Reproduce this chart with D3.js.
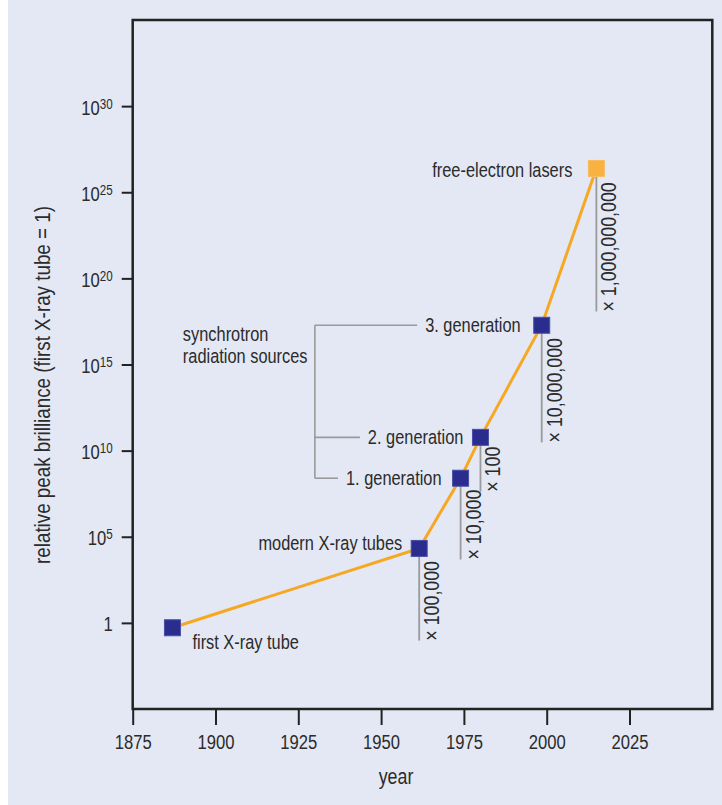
<!DOCTYPE html>
<html>
<head>
<meta charset="utf-8">
<script src="https://cdn.jsdelivr.net/npm/d3@7"></script>
<style>
  html, body { margin: 0; padding: 0; background: #ffffff; }
  svg { display: block; }
  text { font-family: "Liberation Sans", Arial, sans-serif; fill: #2b2b2b; }
</style>
</head>
<body>
<svg id="chart" width="722" height="805"></svg>
<script>
// Milestones in X-ray source brilliance
const years      = [1887, 1961.5, 1974, 1980, 1998.5, 2015];
const brilliance = [0.52, 2.1e4, 2.5e8, 5.9e10, 1.9e17, 2.4e26];
const sourceNames = ["first X-ray tube", "modern X-ray tubes", "1. generation",
                     "2. generation", "3. generation", "free-electron lasers"];
const sourceKinds = ["tube", "tube", "synchrotron", "synchrotron", "synchrotron", "fel"];

// Gain factor from one source to the next, and the level each gain bar starts from
const gainLabels = ["× 100,000", "× 10,000", "× 100", "× 10,000,000", "× 1,000,000,000"];
const gainFloor  = [0.093, 4.8e3, 4.1e7, 3.0e10, 1.2e18];

const xTicks = [1875, 1900, 1925, 1950, 1975, 2000, 2025];
const yTickExponents = [0, 5, 10, 15, 20, 25, 30];
const groupTitle = ["synchrotron", "radiation sources"];
const bracketYear = 1930;

// Label placement next to each marker (px)
const labelDx = [20, -17, -19, -17, -21, -24];
const labelDy = [21, -5, 0, 0, 0, 2];

const svg = d3.select("#chart");
const W = 722, H = 805;
const frame = { left: 132.7, right: 712.3, top: 20, bottom: 709 };
const SX = 0.84;            // horizontal squeeze giving a condensed face
const FS_NOTE = 19.5, FS_GAIN = 21.2, FS_TICK = 19.8, FS_TITLE = 21.2, FS_YTITLE = 22.4;

// Places a text element at (px,py) with optional rotation, condensed horizontally
function placeText(parent, px, py, str, size, opts = {}) {
  return parent.append("text")
    .attr("transform", `translate(${px},${py})${opts.rotate ? ` rotate(${opts.rotate})` : ""} scale(${SX},1)`)
    .attr("text-anchor", opts.anchor || "start")
    .attr("dy", opts.dy || 0)
    .attr("font-size", size)
    .text(str);
}

svg.append("rect").attr("x", 8).attr("y", 0).attr("width", W - 8).attr("height", H).attr("fill", "#e3e8f4");

const x = d3.scaleLinear().domain([1875, 2050]).range([frame.left, frame.right]);
const y = d3.scaleLog().domain([1e-5, 1e35]).range([frame.bottom, frame.top]);

// Axes
const xAxis = svg.append("g")
  .attr("transform", `translate(0,${frame.bottom})`)
  .call(d3.axisBottom(x).tickValues(xTicks).tickFormat(d3.format("d")).tickSize(16).tickPadding(9.5));
const yAxis = svg.append("g")
  .attr("transform", `translate(${frame.left},0)`)
  .call(d3.axisLeft(y).tickValues(yTickExponents.map(e => Math.pow(10, e))).tickSize(11).tickPadding(8.5));

[xAxis, yAxis].forEach(g => {
  g.select(".domain").remove();
  g.selectAll(".tick line").attr("stroke", "#222").attr("stroke-width", 2);
  g.selectAll(".tick text").attr("font-size", FS_TICK).attr("fill", "#2b2b2b");
});
xAxis.selectAll(".tick text").attr("transform", `scale(${SX},1)`);
yAxis.selectAll(".tick text").each(function (d) {
  const e = Math.round(Math.log10(d));
  const t = d3.select(this).text(null)
    .attr("x", 0).attr("dy", "0.4em")
    .attr("transform", `translate(-20,0) scale(${SX},1)`);
  if (e === 0) { t.text("1"); return; }
  t.append("tspan").text("10");
  t.append("tspan").attr("dy", "-0.42em").attr("font-size", "0.7em").text(e);
});

// Plot frame
svg.append("rect")
  .attr("x", frame.left).attr("y", frame.top)
  .attr("width", frame.right - frame.left).attr("height", frame.bottom - frame.top)
  .attr("fill", "none").attr("stroke", "#222").attr("stroke-width", 2.5);

// Axis titles
placeText(svg, 396, 784, "year", FS_TITLE, { anchor: "middle" });
placeText(svg, 42, 385, "relative peak brilliance (first X-ray tube = 1)", FS_YTITLE,
  { anchor: "middle", rotate: -90, dy: "0.35em" });

const pts = years.map((yr, i) => ({ yr, v: brilliance[i], name: sourceNames[i], kind: sourceKinds[i], i }));

// Gain bars and their factors
const gains = gainLabels.map((lab, k) => ({ lab, floor: gainFloor[k], p: pts[k + 1] }));
svg.append("g").selectAll("line").data(gains).join("line")
  .attr("x1", d => x(d.p.yr)).attr("x2", d => x(d.p.yr))
  .attr("y1", d => y(d.p.v)).attr("y2", d => y(d.floor))
  .attr("stroke", "#9a9a9a").attr("stroke-width", 1.8);
const gainG = svg.append("g");
gains.forEach(d => placeText(gainG, x(d.p.yr) + 12.5, y(d.floor), d.lab, FS_GAIN,
  { rotate: -90, dy: "0.35em" }));

// Bracket grouping the synchrotron generations
const syn = pts.filter(p => p.kind === "synchrotron");
const bx = x(bracketYear);
const bracket = svg.append("g").attr("stroke", "#9a9a9a").attr("stroke-width", 1.6).attr("fill", "none");
bracket.append("line").attr("x1", bx).attr("x2", bx)
  .attr("y1", d3.min(syn, p => y(p.v))).attr("y2", d3.max(syn, p => y(p.v)));

// Connecting line
svg.append("path").datum(pts)
  .attr("d", d3.line().x(d => x(d.yr)).y(d => y(d.v)))
  .attr("fill", "none").attr("stroke", "#f7a823").attr("stroke-width", 3);

// Source labels
const labelG = svg.append("g");
pts.forEach(d => {
  const t = placeText(labelG, x(d.yr) + labelDx[d.i], y(d.v) + labelDy[d.i], d.name, FS_NOTE,
    { anchor: d.i === 0 ? "start" : "end", dy: d.i === 0 ? 0 : "0.35em" });
  if (d.kind === "synchrotron") {
    const left = x(d.yr) + labelDx[d.i] - t.node().getComputedTextLength() * SX;
    bracket.append("line").attr("x1", bx).attr("x2", left - 8)
      .attr("y1", y(d.v)).attr("y2", y(d.v));
  }
});

const title = svg.append("text")
  .attr("transform", `translate(${bx - 132},${y(syn[2].v) + 16}) scale(${SX},1)`)
  .attr("font-size", FS_NOTE);
title.selectAll("tspan").data(groupTitle).join("tspan")
  .attr("x", 0).attr("dy", (d, i) => i === 0 ? 0 : 22).text(d => d);

// Markers
const S = 16;
svg.append("g").selectAll("rect").data(pts).join("rect")
  .attr("x", d => x(d.yr) - S / 2).attr("y", d => y(d.v) - S / 2)
  .attr("width", S).attr("height", S)
  .attr("fill", d => d.kind === "fel" ? "#f9b13f" : "#2b2d8e")
  .attr("stroke", d => d.kind === "fel" ? "#f7bd60" : "#4a4ea6").attr("stroke-width", 1);
</script>
</body>
</html>
